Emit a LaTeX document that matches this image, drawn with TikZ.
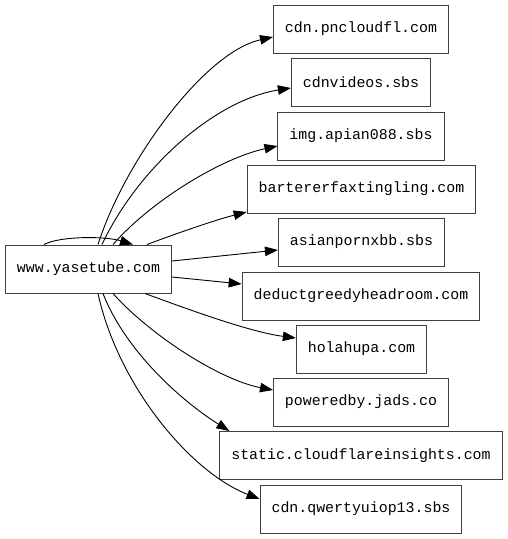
\documentclass[tikz,border=0pt]{standalone}
\usepackage{fontspec}
\setmonofont{Liberation Mono}
\usetikzlibrary{arrows.meta,calc}
\begin{document}
\begin{tikzpicture}[x=1pt,y=-1pt,
  site/.style={draw=black!75,line width=1pt,fill=white,inner xsep=11.5pt,inner ysep=0pt,
    minimum height=48pt,font=\ttfamily\fontsize{14.9}{17}\selectfont},
  link/.style={line width=0.9pt,-{Triangle[length=13pt,width=9.5pt]}}]
\useasboundingbox[fill=white] (0,0) rectangle (508,539);
\node[site] (src) at (88.5,269) {www.yasetube.com};
\node[site] (t1) at (361,29) {cdn.pncloudfl.com};
\node[site] (t2) at (361,82) {cdnvideos.sbs};
\node[site] (t3) at (361,136) {img.apian088.sbs};
\node[site] (t4) at (361.5,189) {bartererfaxtingling.com};
\node[site] (t5) at (361.5,242) {asianpornxbb.sbs};
\node[site] (t6) at (361,296) {deductgreedyheadroom.com};
\node[site] (t7) at (361.5,349) {holahupa.com};
\node[site] (t8) at (361,402) {poweredby.jads.co};
\node[site] (t9) at (361,455.5) {static.cloudflareinsights.com};
\node[site] (t10) at (361,509) {cdn.qwertyuiop13.sbs};
% self loop
\draw[link] ($(src.north)+(-44.5,0)$) .. controls (60,236) and (105,236) .. ($(src.north)+(44.5,0)$);
% upper edges
\draw[link] ($(src.north)+(9.5,0)$) .. controls (125,160) and (205,52) .. ($(t1.west)+(0,8)$);
\draw[link] ($(src.north)+(13.5,0)$) .. controls (138,168) and (215,100) .. ($(t2.west)+(0,6)$);
\draw[link] ($(src.north)+(24.5,0)$) .. controls (152,200) and (222,158) .. ($(t3.west)+(0,10)$);
\draw[link] ($(src.north)+(58.5,0)$) .. controls (175,234) and (215,220) .. ($(t4.west)+(0,23)$);
\draw[link] ($(src.east)+(0,-8)$) -- ($(t5.west)+(0,8)$);
\draw[link] ($(src.east)+(0,8)$) -- ($(t6.west)+(0,-12)$);
% lower edges
\draw[link] ($(src.south)+(56.5,0)$) .. controls (190,310) and (250,332) .. ($(t7.west)+(0,-11)$);
\draw[link] ($(src.south)+(24.5,0)$) .. controls (150,335) and (220,380) .. ($(t8.west)+(0,-12)$);
\draw[link] ($(src.south)+(14.5,0)$) .. controls (125,350) and (180,400) .. ($(t9.north west)+(10,0)$);
\draw[link] ($(src.south)+(9.5,0)$) .. controls (118,385) and (190,472) .. ($(t10.west)+(0,-10)$);
\end{tikzpicture}
\end{document}
